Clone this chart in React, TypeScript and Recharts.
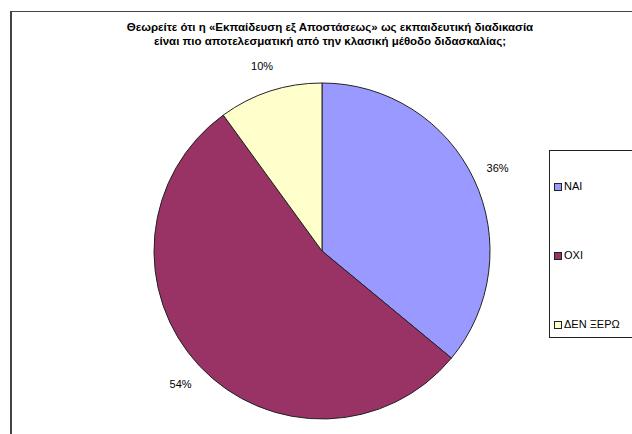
import { PieChart, Pie, Cell, Legend } from "recharts";

const categories = ["ΝΑΙ", "ΟΧΙ", "ΔΕΝ ΞΕΡΩ"];
const shares = [36, 54, 10];
const colors = ["#9999FF", "#993366", "#FFFFCC"];
const titleLines = [
  "Θεωρείτε ότι η «Εκπαίδευση εξ Αποστάσεως» ως εκπαιδευτική διαδικασία",
  "είναι πιο αποτελεσματική από την κλασική μέθοδο διδασκαλίας;",
];

const data = categories.map((name, i) => ({ name, value: shares[i] }));

const RAD = Math.PI / 180;

// percent label sitting just outside each slice
const PctLabel = (props: any) => {
  const { cx, cy, midAngle, outerRadius, value } = props;
  const r = outerRadius + 26;
  const x = cx + r * Math.cos(-midAngle * RAD);
  const y = cy + r * Math.sin(-midAngle * RAD);
  return (
    <text
      x={x}
      y={y}
      textAnchor="middle"
      dominantBaseline="central"
      fontSize={11}
      fill="#000"
      fontFamily="'Liberation Sans', Arial, sans-serif"
    >
      {value}%
    </text>
  );
};

const LegendBox = () => (
  <div
    style={{
      width: 90,
      height: 188,
      borderLeft: "1px solid #222",
      borderTop: "1px solid #222",
      borderBottom: "1px solid #222",
      background: "#fff",
      fontFamily: "'Liberation Sans', Arial, sans-serif",
      fontSize: 11,
      color: "#000",
      paddingTop: 29,
      boxSizing: "border-box",
    }}
  >
    {categories.map((c, i) => (
      <div
        key={c}
        style={{
          height: 69,
          paddingLeft: 4,
          display: "flex",
          alignItems: "flex-start",
          whiteSpace: "nowrap",
          lineHeight: "13px",
        }}
      >
        <span
          style={{
            display: "inline-block",
            width: 6,
            height: 6,
            marginTop: 3,
            background: colors[i],
            border: "1px solid #222",
            marginRight: 2,
          }}
        />
        {c}
      </div>
    ))}
  </div>
);

export default function App() {
  return (
    <div
      style={{
        position: "absolute",
        left: 0,
        top: 0,
        width: 632,
        height: 434,
        overflow: "hidden",
        background: "#fff",
      }}
    >
      <div
        style={{
          position: "absolute",
          left: 10,
          top: 11,
          width: 700,
          height: 500,
          borderLeft: "2px solid #444",
          borderTop: "1px solid #444",
        }}
      />
      <div
        style={{
          position: "absolute",
          left: 30,
          top: 20,
          width: 600,
          textAlign: "center",
          fontFamily: "'Liberation Sans', Arial, sans-serif",
          fontWeight: "bold",
          fontSize: 11.5,
          lineHeight: "14px",
          color: "#000",
        }}
      >
        {titleLines.map((t) => (
          <div key={t}>{t}</div>
        ))}
      </div>
      <div style={{ position: "absolute", left: 0, top: 0 }}>
        <PieChart
          width={632}
          height={434}
          margin={{ top: 0, right: 0, bottom: 0, left: 0 }}
        >
          <Pie
            data={data}
            dataKey="value"
            nameKey="name"
            cx={322}
            cy={251}
            outerRadius={168}
            startAngle={90}
            endAngle={-270}
            stroke="#222"
            strokeWidth={1}
            label={PctLabel}
            labelLine={false}
            isAnimationActive={false}
          >
            {data.map((d, i) => (
              <Cell key={d.name} fill={colors[i]} />
            ))}
          </Pie>
          <Legend
            content={() => <LegendBox />}
            wrapperStyle={{ position: "absolute", left: 549, top: 150, width: 90 }}
          />
        </PieChart>
      </div>
    </div>
  );
}
